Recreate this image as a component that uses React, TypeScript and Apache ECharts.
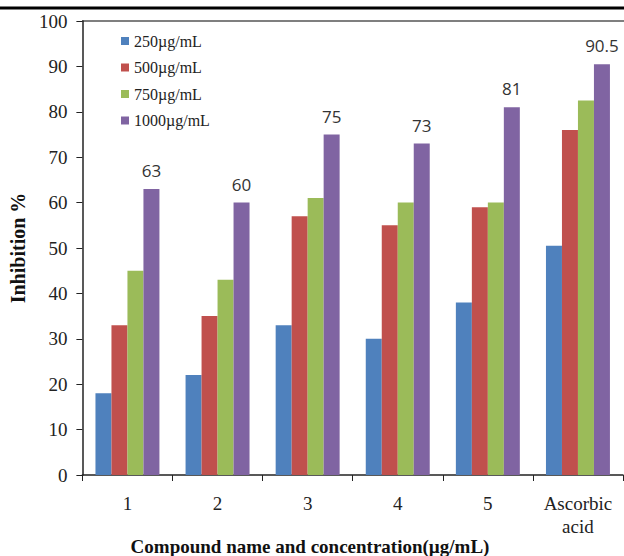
import React, { useEffect, useRef } from "react";
import * as echarts from "echarts";

const categories = ["1", "2", "3", "4", "5", "Ascorbic\nacid"];
const seriesNames = ["250µg/mL", "500µg/mL", "750µg/mL", "1000µg/mL"];
const values250 = [18, 22, 33, 30, 38, 50.5];
const values500 = [33, 35, 57, 55, 59, 76];
const values750 = [45, 43, 61, 60, 60, 82.5];
const values1000 = [63, 60, 75, 73, 81, 90.5];
const colors = ["#4F81BD", "#C0504D", "#9BBB59", "#8064A2"];
const yTicks = { min: 0, max: 100, interval: 10 };

const serif = "'Liberation Serif', 'Times New Roman', serif";

export default function App() {
  const ref = useRef<HTMLDivElement>(null);
  useEffect(() => {
    document.body.style.margin = "0";
    const chart = echarts.init(ref.current!, null, { renderer: "svg" });
    const allValues = [values250, values500, values750, values1000];
    chart.setOption({
      animation: false,
      backgroundColor: "#ffffff",
      grid: { left: 82, right: 1, top: 21, bottom: 81, containLabel: false },
      legend: {
        orient: "vertical",
        left: 116,
        top: 28,
        itemWidth: 8,
        itemHeight: 8,
        itemGap: 10.5,
        icon: "rect",
        textStyle: { fontFamily: serif, fontSize: 16, color: "#222" },
        data: seriesNames,
      },
      xAxis: {
        type: "category",
        data: categories,
        axisLine: { lineStyle: { color: "#222", width: 1.5 } },
        axisTick: { show: true, alignWithLabel: false, length: 6, lineStyle: { color: "#222" } },
        axisLabel: {
          fontFamily: serif,
          fontSize: 19,
          color: "#222",
          margin: 17,
          lineHeight: 23,
          interval: 0,
        },
      },
      yAxis: {
        type: "value",
        min: yTicks.min,
        max: yTicks.max,
        interval: yTicks.interval,
        name: "Inhibition %",
        nameLocation: "middle",
        nameGap: 54,
        nameTextStyle: { fontFamily: serif, fontSize: 20, fontWeight: "bold", color: "#111" },
        axisLine: { show: true, lineStyle: { color: "#222", width: 1.5 } },
        axisTick: { show: true, length: 6, lineStyle: { color: "#222" } },
        axisLabel: { fontFamily: serif, fontSize: 19, color: "#222", margin: 15 },
        splitLine: { show: false },
      },
      series: allValues.map((vals, i) => ({
        name: seriesNames[i],
        type: "bar",
        data: vals,
        barGap: "0%",
        barCategoryGap: "29%",
        itemStyle: { color: colors[i] },
        label:
          i === 3
            ? {
                show: true,
                position: "top",
                distance: 10,
                fontFamily: "'Open Sans', 'Noto Sans', sans-serif",
                fontSize: 17,
                color: "#333",
              }
            : { show: false },
      })),
      graphic: [
        {
          type: "line",
          shape: { x1: 0, y1: 8, x2: 624, y2: 8 },
          style: { stroke: "#000", lineWidth: 3 },
        },
        {
          type: "line",
          shape: { x1: 82, y1: 21, x2: 624, y2: 21 },
          style: { stroke: "#555", lineWidth: 1.5 },
        },
        {
          type: "text",
          x: 310,
          y: 546,
          style: {
            text: "Compound name and concentration(µg/mL)",
            fontFamily: serif,
            fontSize: 19,
            fontWeight: "bold",
            fill: "#111",
            align: "center",
            verticalAlign: "middle",
          },
        },
      ],
    });
    return () => chart.dispose();
  }, []);
  return <div ref={ref} style={{ width: 624, height: 556 }} />;
}
